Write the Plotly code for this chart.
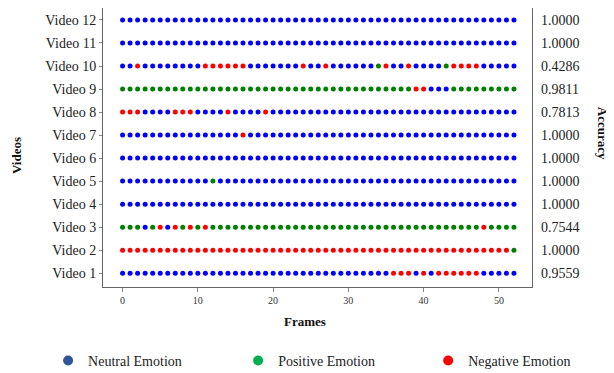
import plotly.graph_objects as go

videos = ["Video 1", "Video 2", "Video 3", "Video 4", "Video 5", "Video 6",
          "Video 7", "Video 8", "Video 9", "Video 10", "Video 11", "Video 12"]
accuracy = ["0.9559", "1.0000", "0.7544", "1.0000", "1.0000", "1.0000",
            "1.0000", "0.7813", "0.9811", "0.4286", "1.0000", "1.0000"]
n_frames = 53
frames = list(range(n_frames))

# N = neutral, P = positive, G = negative
labels = {
    "Video 1":  "N" * 36 + "GGG" + "N" + "G" + "N" + "GGGGGG" + "NNNNN",
    "Video 2":  "G" * 52 + "P",
    "Video 3":  "PPPNPGNGPGPG" + "P" * 36 + "G" + "PPPP",
    "Video 4":  "N" * 53,
    "Video 5":  "N" * 12 + "P" + "N" * 40,
    "Video 6":  "N" * 53,
    "Video 7":  "N" * 16 + "G" + "N" * 36,
    "Video 8":  "GGG" + "NNNN" + "GGG" + "NNNN" + "G" + "NNNN" + "G" + "N" * 33,
    "Video 9":  "P" * 39 + "GG" + "NNN" + "P" * 9,
    "Video 10": "NN" + "G" + "N" * 8 + "GGGGGG" + "N" * 7 + "G" + "NN" + "G" + "N" * 6
                + "P" + "G" + "NN" + "G" + "N" * 4 + "P" + "GGGG" + "N" * 5,
    "Video 11": "N" * 53,
    "Video 12": "N" * 53,
}

dot_colors = {"N": "#0000ff", "P": "#008000", "G": "#ff0000"}
legend_names = {"N": "Neutral Emotion", "P": "Positive Emotion", "G": "Negative Emotion"}
legend_colors = {"N": "#2f5597", "P": "#00b050", "G": "#ff0000"}
legend_ids = {"N": "legend", "P": "legend2", "G": "legend3"}

fig = go.Figure()
for cls in ["N", "P", "G"]:
    xs, ys = [], []
    for vi, v in enumerate(videos):
        for f, c in zip(frames, labels[v]):
            if c == cls:
                xs.append(f)
                ys.append(vi)
    fig.add_trace(go.Scatter(x=xs, y=ys, mode="markers",
                             marker=dict(size=5, color=dot_colors[cls]),
                             showlegend=False, hoverinfo="skip"))
for cls in ["N", "P", "G"]:
    fig.add_trace(go.Scatter(x=[None], y=[None], mode="markers",
                             name=legend_names[cls], legend=legend_ids[cls],
                             marker=dict(size=10, color=legend_colors[cls])))

# right-side axis for accuracy
fig.add_trace(go.Scatter(x=[None], y=[None], yaxis="y2", showlegend=False))

font_family = "Liberation Serif"
leg_common = dict(orientation="h", yanchor="middle", y=-0.265, xanchor="left",
                  font=dict(size=14, color="#222222"), bgcolor="rgba(0,0,0,0)")
yrange = [-0.6, 11.52]
fig.update_layout(
    width=606, height=365,
    margin=dict(l=95, r=82, t=0, b=86, autoexpand=False),
    paper_bgcolor="white", plot_bgcolor="white",
    font=dict(family=font_family, color="#222222"),
    xaxis=dict(range=[-2.6, 54.4], tickvals=[0, 10, 20, 30, 40, 50],
               tickfont=dict(size=10, color="#333333"),
               ticks="outside", ticklen=4, tickcolor="#888888",
               showgrid=False, zeroline=False, automargin=False,
               showline=True, linecolor="#666666", mirror=True),
    yaxis=dict(range=yrange, tickvals=list(range(len(videos))), ticktext=videos,
               tickfont=dict(size=14, color="#222222"),
               ticks="outside", ticklen=3, tickcolor="#888888",
               showgrid=False, zeroline=False, automargin=False,
               showline=True, linecolor="#666666", mirror=True),
    yaxis2=dict(range=yrange, overlaying="y", side="right",
                tickvals=list(range(len(videos))), ticktext=accuracy,
                tickfont=dict(size=14, color="#222222"),
                ticks="", showgrid=False, zeroline=False, showline=False,
                automargin=False, ticklabelstandoff=8),
    legend=dict(leg_common, x=-0.128),
    legend2=dict(leg_common, x=0.315),
    legend3=dict(leg_common, x=0.758),
    annotations=[
        dict(text="<b>Accuracy</b>", textangle=90, xref="paper", yref="paper",
             x=1.165, y=0.55, xanchor="center", yanchor="middle", showarrow=False,
             font=dict(size=13, color="#111111")),
        dict(text="<b>Frames</b>", xref="paper", yref="paper",
             x=0.47, y=-0.125, xanchor="center", yanchor="middle", showarrow=False,
             font=dict(size=13, color="#111111")),
        dict(text="<b>Videos</b>", textangle=-90, xref="paper", yref="paper",
             x=-0.2, y=0.47, xanchor="center", yanchor="middle", showarrow=False,
             font=dict(size=13, color="#111111")),
    ],
)

fig.write_html("out.html")
